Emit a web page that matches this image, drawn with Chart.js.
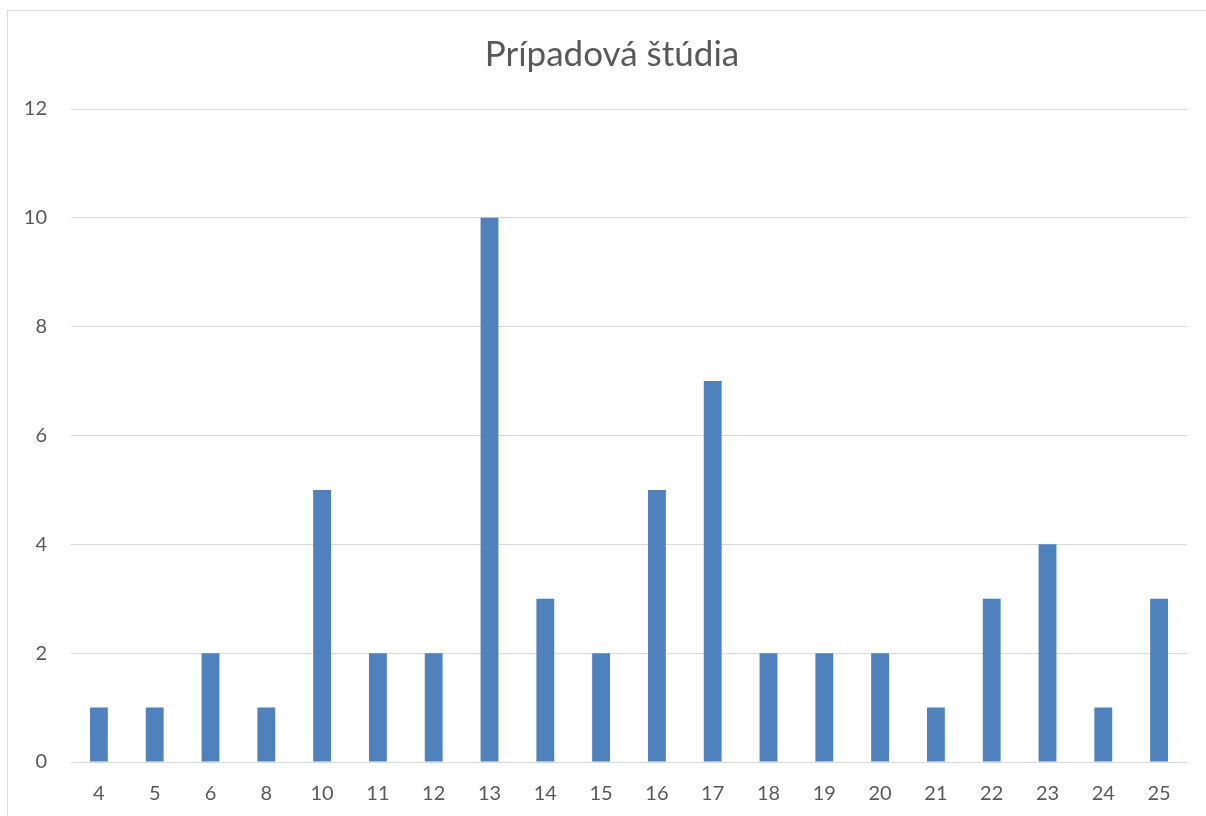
<!DOCTYPE html>
<html>
<head>
<meta charset="utf-8">
<script src="https://cdn.jsdelivr.net/npm/chart.js@4.4.1/dist/chart.umd.min.js"></script>
<style>
  html, body { margin: 0; padding: 0; background: #fff; }
  #wrap { position: relative; width: 1206px; height: 816px; overflow: hidden; }
  #frame { position: absolute; left: 7px; top: 10px; width: 1210px; height: 820px; border: 1px solid #d9d9d9; box-sizing: border-box; pointer-events: none; }
  canvas { position: absolute; left: 0; top: 0; }
</style>
</head>
<body>
<div id="wrap">
  <canvas id="myChart" width="1206" height="816"></canvas>
  <div id="frame"></div>
</div>
<script>
const titleText = 'Prípadová štúdia';
const categories = ['4', '5', '6', '8', '10', '11', '12', '13', '14', '15', '16', '17', '18', '19', '20', '21', '22', '23', '24', '25'];
const counts = [1, 1, 2, 1, 5, 2, 2, 10, 3, 2, 5, 7, 2, 2, 2, 1, 3, 4, 1, 3];
const yTicks = [0, 2, 4, 6, 8, 10, 12];

const textColor = '#595959';
const fontName = 'Lato, "Open Sans", sans-serif';

const ctx = document.getElementById('myChart');

// title is centred on the framed box, not on the canvas, so draw it by hand
const titlePlugin = {
  id: 'frame-title',
  afterDraw: (chart) => {
    const c = chart.ctx;
    c.save();
    c.fillStyle = textColor;
    c.font = '35px ' + fontName;
    c.textAlign = 'center';
    c.textBaseline = 'middle';
    c.fillText(titleText, 612, 55);
    c.restore();
  }
};

new Chart(ctx, {
  type: 'bar',
  data: {
    labels: categories,
    datasets: [{
      label: 'Počet',
      data: counts,
      backgroundColor: '#4f81bd',
      borderWidth: 0,
      barPercentage: 0.32,
      categoryPercentage: 1
    }]
  },
  options: {
    responsive: false,
    animation: false,
    layout: { padding: { left: 0, right: 19, top: 109, bottom: 0 } },
    plugins: {
      legend: { display: false },
      tooltip: { enabled: false },
      title: { display: false }
    },
    scales: {
      x: {
        grid: { display: false, drawTicks: false },
        border: { display: false },
        ticks: {
          color: textColor,
          font: { family: fontName, size: 20 },
          padding: 20,
          maxRotation: 0
        },
        afterFit: (s) => { s.height = 54; }
      },
      y: {
        min: 0,
        max: 12,
        afterBuildTicks: (s) => { s.ticks = yTicks.map(v => ({ value: v })); },
        grid: { color: '#d9d9d9', lineWidth: 1, drawTicks: false },
        border: { display: false },
        ticks: {
          color: textColor,
          font: { family: fontName, size: 20 },
          padding: 24
        },
        afterFit: (s) => { s.width = 71; }
      }
    }
  },
  plugins: [titlePlugin]
});
</script>
</body>
</html>
